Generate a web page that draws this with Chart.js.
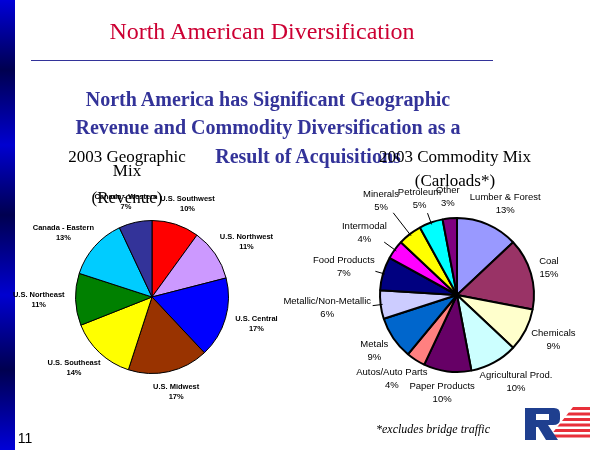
<!DOCTYPE html>
<html>
<head>
<meta charset="utf-8">
<script src="https://cdn.jsdelivr.net/npm/chart.js@4/dist/chart.umd.min.js"></script>
<style>
  html, body { margin: 0; padding: 0; background: #fff; }
  #slide { position: relative; width: 600px; height: 450px; overflow: hidden; background: #fff; }
  .bar { position: absolute; left: 0; top: 0; width: 15px; height: 450px;
    background: linear-gradient(to bottom, #0000d8 0px, #000050 70px, #0000d0 145px, #000050 215px, #0000d0 295px, #000050 370px, #0000d8 450px); }
  .rule { position: absolute; left: 31px; top: 60px; width: 462px; height: 1px; background: #333399; }
  .t { position: absolute; white-space: nowrap; line-height: 1; transform: translateX(-50%); z-index: 2; }
  .serif { font-family: "Liberation Serif", "Times New Roman", serif; }
  .sub { font-size: 20px; font-weight: bold; color: #333399; }
  .ct { font-size: 17px; }
  canvas { position: absolute; left: 0; top: 0; }
  svg { position: absolute; left: 520px; top: 400px; }
</style>
</head>
<body>
<div id="slide">
  <div class="bar"></div>
  <div class="t serif" style="left:262px;top:19px;font-size:24px;color:#cc0033;">North American Diversification</div>
  <div class="rule"></div>
  <div class="t serif sub" style="left:268px;top:89px;">North America has Significant Geographic</div>
  <div class="t serif sub" style="left:268px;top:117px;">Revenue and Commodity Diversification as a</div>
  <div class="t serif sub" style="left:308px;top:146px;">Result of Acquisitions</div>
  <div class="t serif ct" style="left:127px;top:148px;">2003 Geographic</div>
  <div class="t serif ct" style="left:127px;top:162px;">Mix</div>
  <div class="t serif ct" style="left:127px;top:189px;">(Revenue)</div>
  <div class="t serif ct" style="left:455px;top:148px;">2003 Commodity Mix</div>
  <div class="t serif ct" style="left:455px;top:172px;">(Carloads*)</div>
  <div class="t serif" style="left:433px;top:423px;font-size:12px;font-style:italic;">*excludes bridge traffic</div>
  <div class="t" style="left:25px;top:431px;font-size:14px;font-family:'Liberation Sans',Arial,sans-serif;">11</div>
  <canvas id="geoChart" width="600" height="450"></canvas>
  <canvas id="commodityChart" width="600" height="450"></canvas>
  <svg width="75" height="45" viewBox="0 0 75 45">
    <defs>
      <clipPath id="stripeClip"><polygon points="53,7 70,7 70,40 27,40"/></clipPath>
    </defs>
    <g clip-path="url(#stripeClip)" fill="#e8303a">
      <rect x="20" y="7" width="55" height="3"/>
      <rect x="20" y="12.5" width="55" height="3"/>
      <rect x="20" y="18" width="55" height="3"/>
      <rect x="20" y="23.5" width="55" height="3"/>
      <rect x="20" y="29" width="55" height="3"/>
      <rect x="20" y="34.5" width="55" height="3"/>
    </g>
    <path fill="#1f3f8f" d="M5,8 L34,8 Q40,8 40,14 L40,19 Q40,25 33,25 L28,25 L38,40 L26,40 L18,27 L16,27 L16,40 L5,40 Z"/>
    <rect x="16" y="14" width="13" height="6" fill="#fff"/>
  </svg>
</div>
<script>
// 2003 Geographic Mix (Revenue), percent
const geoLabels = ['U.S. Southwest', 'U.S. Northwest', 'U.S. Central', 'U.S. Midwest',
  'U.S. Southeast', 'U.S. Northeast', 'Canada - Eastern', 'Canada - Western'];
const geoValues = [10, 11, 17, 17, 14, 11, 13, 7];
const geoColors = ['#ff0000', '#cc99ff', '#0000ff', '#993300', '#ffff00', '#008000', '#00ccff', '#333399'];

// 2003 Commodity Mix (Carloads), percent
const commodityLabels = ['Lumber & Forest', 'Coal', 'Chemicals', 'Agricultural Prod.', 'Paper Products',
  'Autos/Auto Parts', 'Metals', 'Metallic/Non-Metallic', 'Food Products', 'Intermodal',
  'Minerals', 'Petroleum', 'Other'];
const commodityValues = [13, 15, 9, 10, 10, 4, 9, 6, 7, 4, 5, 5, 3];
const commodityColors = ['#9999ff', '#993366', '#ffffcc', '#ccffff', '#660066', '#ff8080', '#0066cc',
  '#ccccff', '#000080', '#ff00ff', '#ffff00', '#00ffff', '#800080'];

// labels outside the pie, name over percentage
const outsideLabels = {
  id: 'outsideLabels',
  afterDatasetsDraw(chart, args, opts) {
    const ctx = chart.ctx;
    const meta = chart.getDatasetMeta(0);
    const data = chart.data.datasets[0].data;
    const total = data.reduce((a, b) => a + b, 0);
    const leaders = opts.leaders || {};
    ctx.save();
    ctx.font = opts.font;
    ctx.fillStyle = '#000';
    ctx.strokeStyle = '#000';
    ctx.lineWidth = 1;
    ctx.textAlign = 'center';
    ctx.textBaseline = 'middle';
    meta.data.forEach((arc, i) => {
      const p = arc.getProps(['x', 'y', 'startAngle', 'endAngle', 'outerRadius'], true);
      const mid = (p.startAngle + p.endAngle) / 2;
      const cos = Math.cos(mid), sin = Math.sin(mid);
      const name = chart.data.labels[i];
      const hasLeader = name in leaders;
      const r = p.outerRadius + opts.pad + (hasLeader ? leaders[name] : 0);
      const lines = [name, Math.round(data[i] / total * 100) + '%'];
      const w = Math.max(...lines.map(s => ctx.measureText(s).width));
      const h = opts.lineHeight * lines.length;
      const x = p.x + cos * r + cos * w / 2;
      const y = p.y + sin * r + sin * h / 2;
      if (hasLeader) {
        ctx.beginPath();
        ctx.moveTo(p.x + cos * (p.outerRadius - 2), p.y + sin * (p.outerRadius - 2));
        ctx.lineTo(p.x + cos * (r - 2), p.y + sin * (r - 2));
        ctx.stroke();
      }
      lines.forEach((s, k) => ctx.fillText(s, x, y - h / 2 + opts.lineHeight * (k + 0.5)));
    });
    ctx.restore();
  }
};

function makePie(id, labels, values, colors, border, padding, labelOpts) {
  return new Chart(document.getElementById(id), {
    type: 'pie',
    data: {
      labels: labels,
      datasets: [{
        data: values,
        backgroundColor: colors,
        borderColor: '#000',
        borderWidth: border
      }]
    },
    options: {
      responsive: false,
      animation: false,
      events: [],
      layout: { padding: padding },
      plugins: {
        legend: { display: false },
        tooltip: { enabled: false },
        outsideLabels: labelOpts
      }
    },
    plugins: [outsideLabels]
  });
}

makePie('geoChart', geoLabels, geoValues, geoColors, 1,
  { left: 75, right: 371, top: 220, bottom: 76 },
  { font: 'bold 7.5px "Liberation Sans", Arial, sans-serif', lineHeight: 10, pad: 11 });

// extra leader-line length (px) for the small slices on the left of the commodity pie
makePie('commodityChart', commodityLabels, commodityValues, commodityColors, 2,
  { left: 379, right: 65, top: 217, bottom: 77 },
  { font: '9.5px "Liberation Sans", Arial, sans-serif', lineHeight: 13, pad: 9,
    leaders: { 'Minerals': 20, 'Petroleum': 3, 'Intermodal': 6, 'Food Products': 1, 'Metallic/Non-Metallic': 1 } });
</script>
</body>
</html>
